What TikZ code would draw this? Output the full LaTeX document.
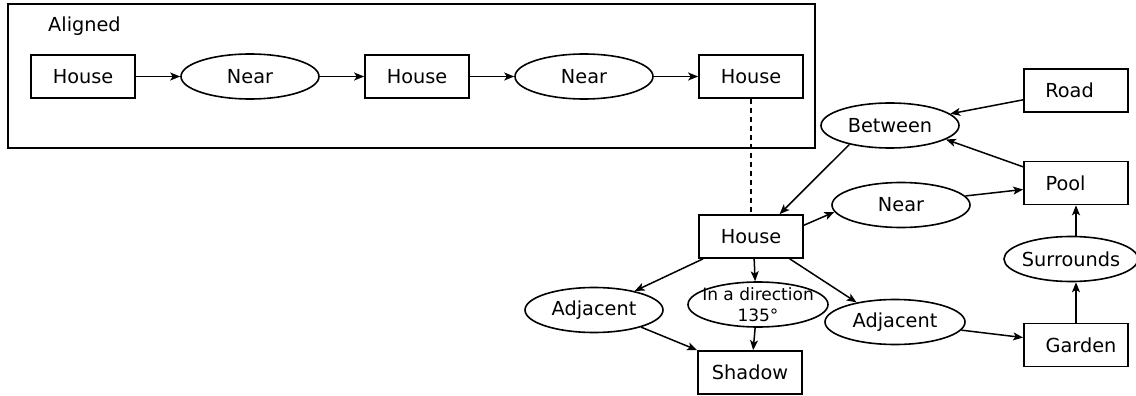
\documentclass[tikz,border=0pt]{standalone}
\usepackage{fontspec}
\setmainfont{DejaVu Sans}
\usetikzlibrary{shapes.geometric,arrows.meta}
\begin{document}
\begin{tikzpicture}[x=1pt,y=-1pt,
  obj/.style={draw, line width=1.7pt, minimum width=104pt, minimum height=43pt, inner sep=0pt, font=\fontsize{19.3}{22}\selectfont},
  objl/.style n args={2}{obj, label={[lbl,xshift=#2]center:#1}},
  rel/.style={draw, ellipse, line width=1.6pt, minimum width=138pt, minimum height=45pt, inner sep=0pt},
  lbl/.style={font=\fontsize{19.3}{22}\selectfont, inner sep=0pt},
  conn/.style={line width=1.5pt, -{Stealth[length=10pt,width=8pt,inset=2.5pt]}},
  frame/.style={draw, line width=1.7pt}]
\useasboundingbox (0,0) rectangle (1136,396);
% frame
\node[frame, minimum width=807pt, minimum height=144pt, inner sep=0pt] (frm) at (411.5,76) {};
\node[lbl, anchor=base west] (aligned) at (48,32) {Aligned};
% top row
\node[obj] (house1) at (83,76.5) {House};
\node[rel, label={[lbl]center:Near}] (near1) at (250,76.5) {};
\node[obj] (house2) at (417,76.5) {House};
\node[rel, label={[lbl]center:Near}] (near2) at (584,76.5) {};
\node[obj] (house3) at (751,76.5) {House};
% right part
\node[objl={Road}{-6.5pt}] (road) at (1076,90.5) {};
\node[rel, label={[lbl]center:Between}] (between) at (890,125.5) {};
\node[objl={Pool}{-10.5pt}] (pool) at (1076,183) {};
\node[rel, label={[lbl]center:Near}] (near3) at (901,205) {};
\node[obj] (house4) at (751,236.5) {House};
\node[rel, minimum width=134pt, label={[lbl]center:Surrounds}] (surr) at (1071,259) {};
\node[rel, label={[lbl]center:Adjacent}] (adj1) at (594,310) {};
\node[rel, minimum width=140pt, label={[font=\fontsize{17}{21}\selectfont, align=center, inner sep=0pt]center:In a direction\\135°}] (dir) at (758,304.5) {};
\node[rel, minimum width=140pt, label={[lbl]center:Adjacent}] (adj2) at (895,322) {};
\node[obj] (shadow) at (750,372.5) {Shadow};
\node[objl={Garden}{5pt}] (garden) at (1076,345) {};
% connectors
\draw[conn] (house1.east) -- (near1.west);
\draw[conn] (near1.east) -- (house2.west);
\draw[conn] (house2.east) -- (near2.west);
\draw[conn] (near2.east) -- (house3.west);
\draw[line width=1.5pt, dash pattern=on 5pt off 4pt] (house3.south) -- (house4.north);
\draw[conn] (road.190) -- (between.11);
\draw[conn] (pool.163) -- (between.-14);
\draw[conn] (between.205) -- (house4.38.5);
\draw[conn] (house4.12.5) -- (near3.186);
\draw[conn] (near3.8) -- (pool.187.5);
\draw[conn] (pool.south |- surr.north) -- (pool.south);
\draw[conn] (garden.north) -- (garden.north |- surr.south);
\draw[conn] (house4.205) -- (adj1.25);
\draw[conn] (house4.-82) -- (dir.97);
\draw[conn] (house4.-30.6) -- (adj2.153);
\draw[conn] (adj1.-20) -- (shadow.north west);
\draw[conn] (dir.-97) -- (shadow.82);
\draw[conn] (adj2.-7) -- (garden.172);
\end{tikzpicture}
\end{document}
